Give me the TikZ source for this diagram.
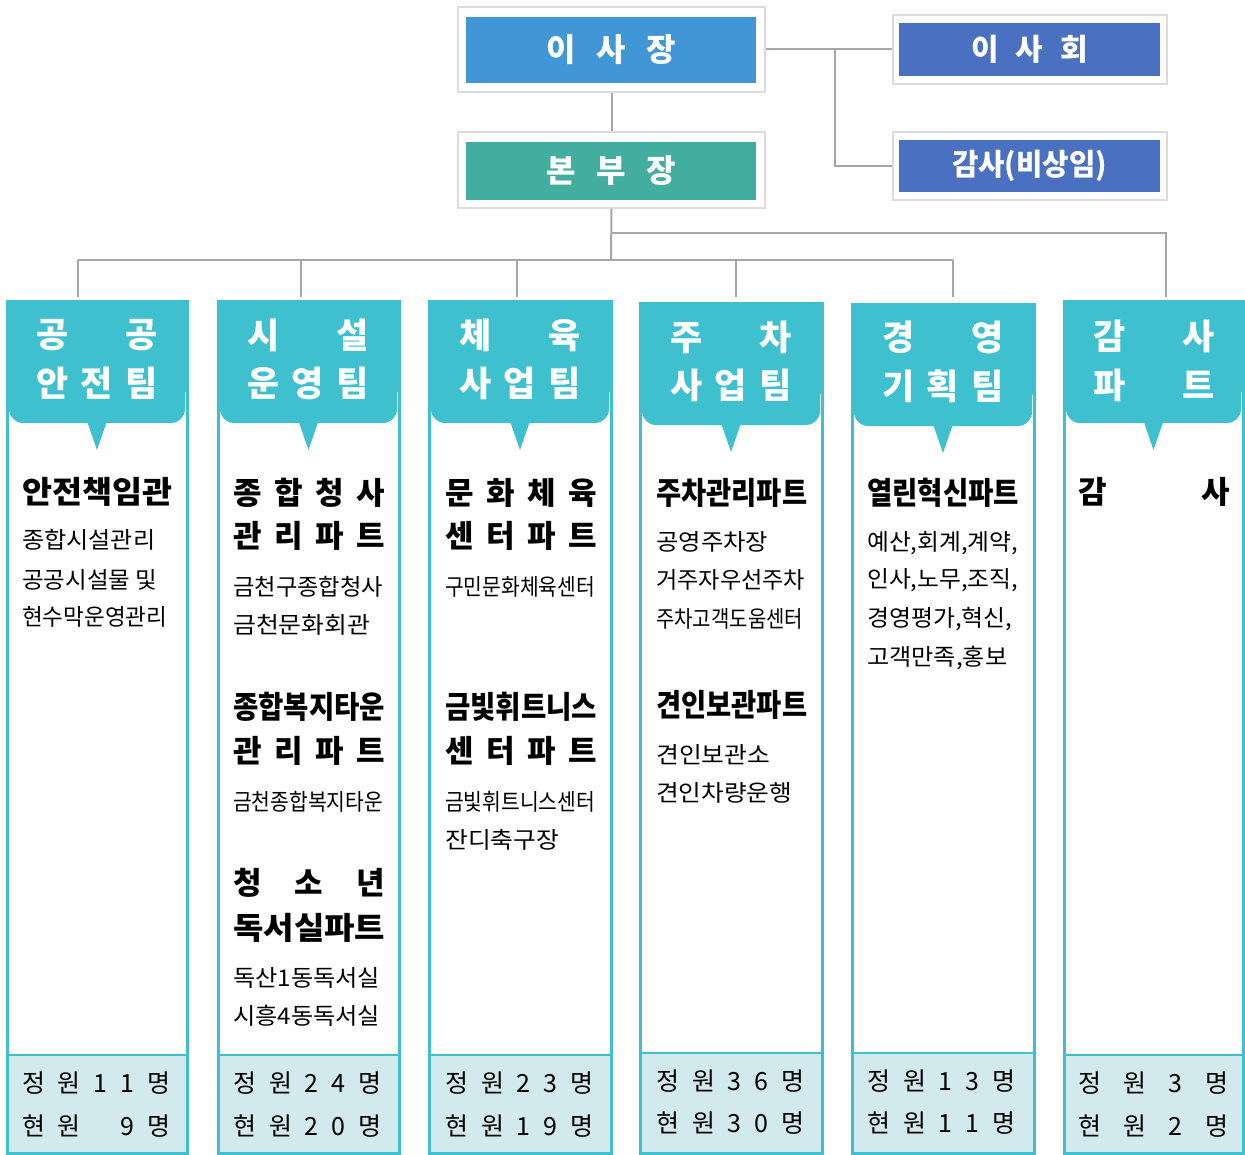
\documentclass[tikz,border=0pt]{standalone}
\usepackage{fontspec}
\usepackage{graphicx}
\setmainfont{Noto Sans CJK KR}
\definecolor{hdr}{HTML}{3EC0CE}
\definecolor{lite}{HTML}{D2EAEE}
\definecolor{ceoblue}{HTML}{4197D5}
\definecolor{hqteal}{HTML}{43AD9F}
\definecolor{boardblue}{HTML}{4A70C2}
\definecolor{conncol}{HTML}{A6A6A6}
\definecolor{framecol}{HTML}{E2DADA}
\newcommand\mySpread[2]{\makebox[#1][s]{#2}}
\newcommand\mySqz[2]{\resizebox{#1}{\height}{#2}}
\newcommand\orgCol[5]{%
  \fill[hdr] ({#1},{#3}) rectangle ({#2},{#3+90});
  \fill[hdr,rounded corners=14pt] ({#1+2},{#3+40}) rectangle ({#2-2},{#3+121});
  \fill[hdr] ({(#1+#2)/2-10},{#3+119}) -- ({(#1+#2)/2+10},{#3+119}) -- ({(#1+#2)/2},{#3+148}) -- cycle;
  \fill[lite] ({#1},{#4}) rectangle ({#2},1153);
  \draw[hdr,line width=1.2pt] ({#1},{#4}) -- ({#2},{#4});
  \draw[hdr,line width=3pt] ({#1},{#3}) rectangle ({#2},1153);
  \coordinate (#5) at ({(#1+#2)/2},{#3});
}
\begin{document}
\begin{tikzpicture}[x=1pt,y=-1pt,
  ttl/.style={anchor=west,inner sep=0pt,font=\bfseries\fontsize{31}{36}\selectfont},
  bod/.style={anchor=west,inner sep=0pt,font=\fontsize{23}{26}\selectfont},
  cnt/.style={anchor=west,inner sep=0pt,font=\fontsize{25}{28}\selectfont},
  hdrtxt/.style={text=white,inner sep=0pt,font=\bfseries\fontsize{35}{40}\selectfont},
  outerbox/.style={draw=framecol,fill=white,line width=1.5pt,inner sep=0pt},
  innerbox/.style={inner sep=0pt,text=white,font=\bfseries\fontsize{30}{36}\selectfont},
  connline/.style={draw=conncol,line width=2pt}]
\useasboundingbox[fill=white] (0,0) rectangle (1245,1155);

% top boxes
\node[outerbox,minimum width=307pt,minimum height=85pt] (ceo) at (611.5,49.5) {};
\node[innerbox,fill=ceoblue,minimum width=290pt,minimum height=66pt,font=\bfseries\fontsize{32}{36}\selectfont] (ceoIn) at (611,50) {\mySpread{129pt}{이\hfill 사\hfill 장}};
\node[outerbox,minimum width=307pt,minimum height=76pt] (hq) at (611.5,170) {};
\node[innerbox,fill=hqteal,minimum width=290pt,minimum height=58pt,font=\bfseries\fontsize{32}{36}\selectfont] (hqIn) at (611,171) {\mySpread{129pt}{본\hfill 부\hfill 장}};
\node[outerbox,minimum width=274pt,minimum height=69pt] (board) at (1030,49.5) {};
\node[innerbox,fill=boardblue,minimum width=261pt,minimum height=53pt] (boardIn) at (1029.5,49.5) {\mySpread{117pt}{이\hfill 사\hfill 회}};
\node[outerbox,minimum width=274pt,minimum height=68pt] (audit) at (1030,166) {};
\node[innerbox,fill=boardblue,minimum width=261pt,minimum height=52pt] (auditIn) at (1029.5,166) {\mySqz{155pt}{감사(비상임)}};

% connectors
\coordinate (jx) at (835,172);
\draw[connline] (ceo.east) -- (board.west);
\draw[connline] (ceo.east -| jx) |- (audit.west);
\draw[connline] (ceo.south) -- (hq.north);
\coordinate (busA) at (611,260);
\coordinate (busB) at (611,233);
\coordinate (d1) at (78,297);
\coordinate (d2) at (301,297);
\coordinate (d3) at (517,297);
\coordinate (d4) at (736,297);
\coordinate (d5) at (953,297);
\coordinate (d6) at (1166,297);
\draw[connline] (hq.south) -- (busA);
\draw[connline] (d1 |- busA) -- (d5 |- busA);
\foreach \i in {1,...,5} \draw[connline] (d\i |- busA) -- (d\i);
\draw[connline] (busB) -| (d6);

% columns
\orgCol{7}{187}{302}{1055}{c1}
\orgCol{218}{399}{302}{1055}{c2}
\orgCol{429}{611}{302}{1055}{c3}
\orgCol{640}{822}{304}{1053}{c4}
\orgCol{852}{1034}{305}{1053}{c5}
\orgCol{1064}{1243}{302}{1055}{c6}

% headers
\node[hdrtxt] (h1a) at (97,335) {\mySpread{122pt}{공\hfill 공}};
\node[hdrtxt] (h1b) at (97,383) {\mySpread{122pt}{안\hfill 전\hfill 팀}};
\node[hdrtxt] (h2a) at (308,335) {\mySpread{122pt}{시\hfill 설}};
\node[hdrtxt] (h2b) at (308,383) {\mySpread{122pt}{운\hfill 영\hfill 팀}};
\node[hdrtxt] (h3a) at (520,335) {\mySpread{122pt}{체\hfill 육}};
\node[hdrtxt] (h3b) at (520,383) {\mySpread{122pt}{사\hfill 업\hfill 팀}};
\node[hdrtxt] (h4a) at (731,337) {\mySpread{122pt}{주\hfill 차}};
\node[hdrtxt] (h4b) at (731,385) {\mySpread{122pt}{사\hfill 업\hfill 팀}};
\node[hdrtxt] (h5a) at (943,337) {\mySpread{122pt}{경\hfill 영}};
\node[hdrtxt] (h5b) at (943,386) {\mySpread{122pt}{기\hfill 획\hfill 팀}};
\node[hdrtxt] (h6a) at (1154,336) {\mySpread{122pt}{감\hfill 사}};
\node[hdrtxt] (h6b) at (1154,385) {\mySpread{122pt}{파\hfill 트}};

% col1
\node[ttl] (t1) at (22,492) {\mySqz{150pt}{안전책임관}};
\node[bod] (b1a) at (22,540) {\mySqz{133pt}{종합시설관리}};
\node[bod] (b1b) at (22,580) {\mySqz{135pt}{공공시설물 및}};
\node[bod] (b1c) at (22,617) {\mySqz{145pt}{현수막운영관리}};
% col2
\node[ttl] (t2a) at (233,493) {\mySpread{152pt}{종\hfill 합\hfill 청\hfill 사}};
\node[ttl] (t2b) at (233,536) {\mySpread{152pt}{관\hfill 리\hfill 파\hfill 트}};
\node[bod] (b2a) at (233,587) {\mySqz{150pt}{금천구종합청사}};
\node[bod] (b2b) at (233,625) {\mySqz{137pt}{금천문화회관}};
\node[ttl] (t2c) at (233,707) {\mySqz{152pt}{종합복지타운}};
\node[ttl] (t2d) at (233,751) {\mySpread{152pt}{관\hfill 리\hfill 파\hfill 트}};
\node[bod] (b2c) at (233,802) {\mySqz{150pt}{금천종합복지타운}};
\node[ttl] (t2e) at (233,883) {\mySpread{152pt}{청\hfill 소\hfill 년}};
\node[ttl] (t2f) at (233,928) {\mySqz{152pt}{독서실파트}};
\node[bod] (b2d) at (233,978) {\mySqz{147pt}{독산1동독서실}};
\node[bod] (b2e) at (233,1016) {\mySqz{147pt}{시흥4동독서실}};
% col3
\node[ttl] (t3a) at (445,493) {\mySpread{152pt}{문\hfill 화\hfill 체\hfill 육}};
\node[ttl] (t3b) at (445,536) {\mySpread{152pt}{센\hfill 터\hfill 파\hfill 트}};
\node[bod] (b3a) at (445,587) {\mySqz{150pt}{구민문화체육센터}};
\node[ttl] (t3c) at (445,707) {\mySqz{152pt}{금빛휘트니스}};
\node[ttl] (t3d) at (445,751) {\mySpread{152pt}{센\hfill 터\hfill 파\hfill 트}};
\node[bod] (b3b) at (445,802) {\mySqz{150pt}{금빛휘트니스센터}};
\node[bod] (b3c) at (445,840) {\mySqz{114pt}{잔디축구장}};
% col4
\node[ttl] (t4a) at (656,493) {\mySqz{151pt}{주차관리파트}};
\node[bod] (b4a) at (656,542) {\mySqz{112pt}{공영주차장}};
\node[bod] (b4b) at (656,580) {\mySqz{149pt}{거주자우선주차}};
\node[bod] (b4c) at (656,619) {\mySqz{147pt}{주차고객도움센터}};
\node[ttl] (t4b) at (656,705) {\mySqz{151pt}{견인보관파트}};
\node[bod] (b4d) at (656,755) {\mySqz{114pt}{견인보관소}};
\node[bod] (b4e) at (656,793) {\mySqz{136pt}{견인차량운행}};
% col5
\node[ttl] (t5a) at (867,493) {\mySqz{152pt}{열린혁신파트}};
\node[bod] (b5a) at (867,543) {\mySqz{151pt}{예산,회계,계약,}};
\node[bod] (b5b) at (867,580) {\mySqz{151pt}{인사,노무,조직,}};
\node[bod] (b5c) at (867,619) {\mySqz{145pt}{경영평가,혁신,}};
\node[bod] (b5d) at (867,658) {\mySqz{140pt}{고객만족,홍보}};
% col6
\node[ttl] (t6a) at (1078,492) {\mySpread{152pt}{감\hfill 사}};

% counts
\node[cnt] (n1a) at (22,1083) {\mySpread{148pt}{정\hfill 원\hfill 1\hfill 1\hfill 명}};
\node[cnt] (n1b) at (22,1126) {\mySpread{148pt}{현\hfill 원\hfill \phantom{1}\hfill 9\hfill 명}};
\node[cnt] (n2a) at (233,1083) {\mySpread{148pt}{정\hfill 원\hfill 2\hfill 4\hfill 명}};
\node[cnt] (n2b) at (233,1126) {\mySpread{148pt}{현\hfill 원\hfill 2\hfill 0\hfill 명}};
\node[cnt] (n3a) at (445,1083) {\mySpread{148pt}{정\hfill 원\hfill 2\hfill 3\hfill 명}};
\node[cnt] (n3b) at (445,1126) {\mySpread{148pt}{현\hfill 원\hfill 1\hfill 9\hfill 명}};
\node[cnt] (n4a) at (656,1081) {\mySpread{148pt}{정\hfill 원\hfill 3\hfill 6\hfill 명}};
\node[cnt] (n4b) at (656,1123) {\mySpread{148pt}{현\hfill 원\hfill 3\hfill 0\hfill 명}};
\node[cnt] (n5a) at (867,1081) {\mySpread{148pt}{정\hfill 원\hfill 1\hfill 3\hfill 명}};
\node[cnt] (n5b) at (867,1123) {\mySpread{148pt}{현\hfill 원\hfill 1\hfill 1\hfill 명}};
\node[cnt] (n6a) at (1078,1083) {\mySpread{150pt}{정\hfill 원\hfill 3\hfill 명}};
\node[cnt] (n6b) at (1078,1126) {\mySpread{150pt}{현\hfill 원\hfill 2\hfill 명}};
\end{tikzpicture}
\end{document}
